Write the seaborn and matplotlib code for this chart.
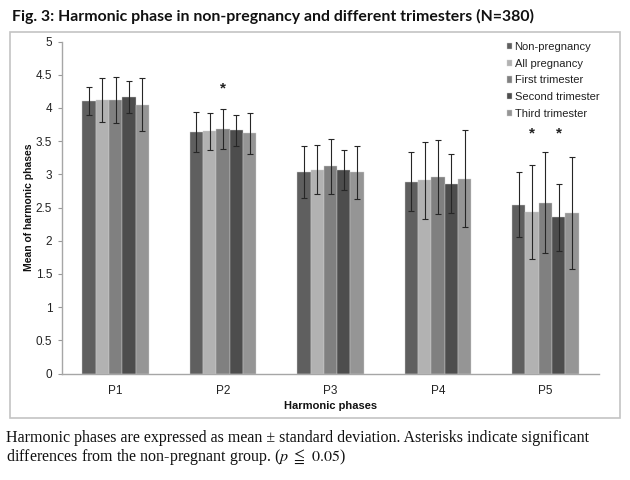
import pandas as pd
import matplotlib
matplotlib.use('Agg')
import matplotlib.pyplot as plt
import seaborn as sns

# values
phases = ['P1', 'P2', 'P3', 'P4', 'P5']
groups = ['Non-pregnancy', 'All pregnancy', 'First trimester',
          'Second trimester', 'Third trimester']

mean_non = [4.10, 3.64, 3.03, 2.89, 2.54]
mean_all = [4.12, 3.65, 3.07, 2.91, 2.43]
mean_first = [4.12, 3.68, 3.12, 2.96, 2.57]
mean_second = [4.17, 3.66, 3.07, 2.86, 2.35]
mean_third = [4.05, 3.62, 3.03, 2.93, 2.42]

sd_non = [0.21, 0.30, 0.39, 0.44, 0.49]
sd_all = [0.33, 0.28, 0.37, 0.58, 0.71]
sd_first = [0.35, 0.30, 0.41, 0.56, 0.76]
sd_second = [0.24, 0.23, 0.30, 0.45, 0.50]
sd_third = [0.40, 0.31, 0.40, 0.73, 0.84]

# significant bars (phase, group) and star height
stars = [('P2', 'First trimester'), ('P5', 'All pregnancy'),
         ('P5', 'Second trimester')]
star_y = {'P2': 4.30, 'P5': 3.62}

colors = ['#5f5f5f', '#b2b2b2', '#808080', '#4d4d4d', '#959595']

means = [mean_non, mean_all, mean_first, mean_second, mean_third]
sds = [sd_non, sd_all, sd_first, sd_second, sd_third]

rows = []
for g, m in zip(groups, means):
    for p, v in zip(phases, m):
        rows.append({'phase': p, 'group': g, 'mean': v})
df = pd.DataFrame(rows)

sns.set_style('white')
plt.rcParams['font.family'] = ['Liberation Sans', 'DejaVu Sans']
plt.rcParams['mathtext.fontset'] = 'stix'

fig = plt.figure(figsize=(6.3, 4.8), dpi=100)
ax = fig.add_axes([62 / 630, 1 - 373.5 / 480, 537 / 630, 332 / 480])

sns.barplot(data=df, x='phase', y='mean', hue='group', order=phases,
            hue_order=groups, palette=colors, width=0.62, errorbar=None,
            edgecolor='#cfcfcf', linewidth=0.3, saturation=1, ax=ax)

# error bars (mean +/- SD)
for cont, sd in zip(ax.containers, sds):
    xs = [b.get_x() + b.get_width() / 2 for b in cont]
    ys = [b.get_height() for b in cont]
    ax.errorbar(xs, ys, yerr=sd, fmt='none', ecolor='#262626',
                elinewidth=0.8, capsize=2.2, capthick=0.8)

# asterisks
for p, g in stars:
    b = ax.containers[groups.index(g)][phases.index(p)]
    ax.text(b.get_x() + b.get_width() / 2, star_y[p], '*', ha='center',
            va='center', fontsize=11, fontweight='bold', color='#222222')

ax.set_ylim(0, 5)
ax.set_xlim(-0.5, 4.5)
ax.set_yticks([0, 0.5, 1, 1.5, 2, 2.5, 3, 3.5, 4, 4.5, 5])
ax.set_yticklabels(['0', '0.5', '1', '1.5', '2', '2.5', '3', '3.5', '4',
                    '4.5', '5'])
ax.tick_params(axis='y', left=True, length=3, width=0.8, color='#999999',
               labelsize=8.5, labelcolor='#222222', pad=4)
ax.tick_params(axis='x', bottom=False, labelsize=8.5, labelcolor='#222222',
               pad=5)
for s in ['top', 'right']:
    ax.spines[s].set_visible(False)
for s in ['left', 'bottom']:
    ax.spines[s].set_color('#a6a6a6')
    ax.spines[s].set_linewidth(1.0)

ax.set_xlabel('Harmonic phases', fontsize=8, fontweight='bold',
              color='#111111', labelpad=3)
ax.set_ylabel('Mean of harmonic phases', fontsize=7.5, fontweight='bold',
              color='#111111')
ax.yaxis.set_label_coords(-28 / 537, 0.5)

leg = ax.legend(loc='upper left', bbox_to_anchor=(0.82, 1.012),
                frameon=False, fontsize=8, handlelength=0.5,
                handleheight=0.5, handletextpad=0.2, labelspacing=0.6,
                borderaxespad=0)
for t in leg.get_texts():
    t.set_color('#222222')

# outer frame around the chart
frame = plt.Rectangle((10 / 630, 1 - 418 / 480), 610 / 630, 386 / 480,
                      transform=fig.transFigure, fill=False,
                      edgecolor='#c4c4c4', linewidth=1.2)
fig.add_artist(frame)

fig.text(12 / 630, 1 - 16 / 480,
         'Fig. 3: Harmonic phase in non-pregnancy and different trimesters (N=380)',
         fontsize=11.4, fontweight='bold', family=['Lato', 'DejaVu Sans'],
         va='center', ha='left', color='#111111')

fig.text(6 / 630, 1 - 438 / 480,
         'Harmonic phases are expressed as mean \u00b1 standard deviation. '
         'Asterisks indicate significant',
         fontsize=11.5, family=['Liberation Serif', 'DejaVu Serif'],
         va='center', ha='left', color='#111111')
fig.text(6 / 630, 1 - 457 / 480,
         r'differences from the non-pregnant group. ($p\ \leqq\ 0.05$)',
         fontsize=11.5, family=['Liberation Serif', 'DejaVu Serif'],
         va='center', ha='left', color='#111111')

fig.savefig('out.png', dpi=100)
